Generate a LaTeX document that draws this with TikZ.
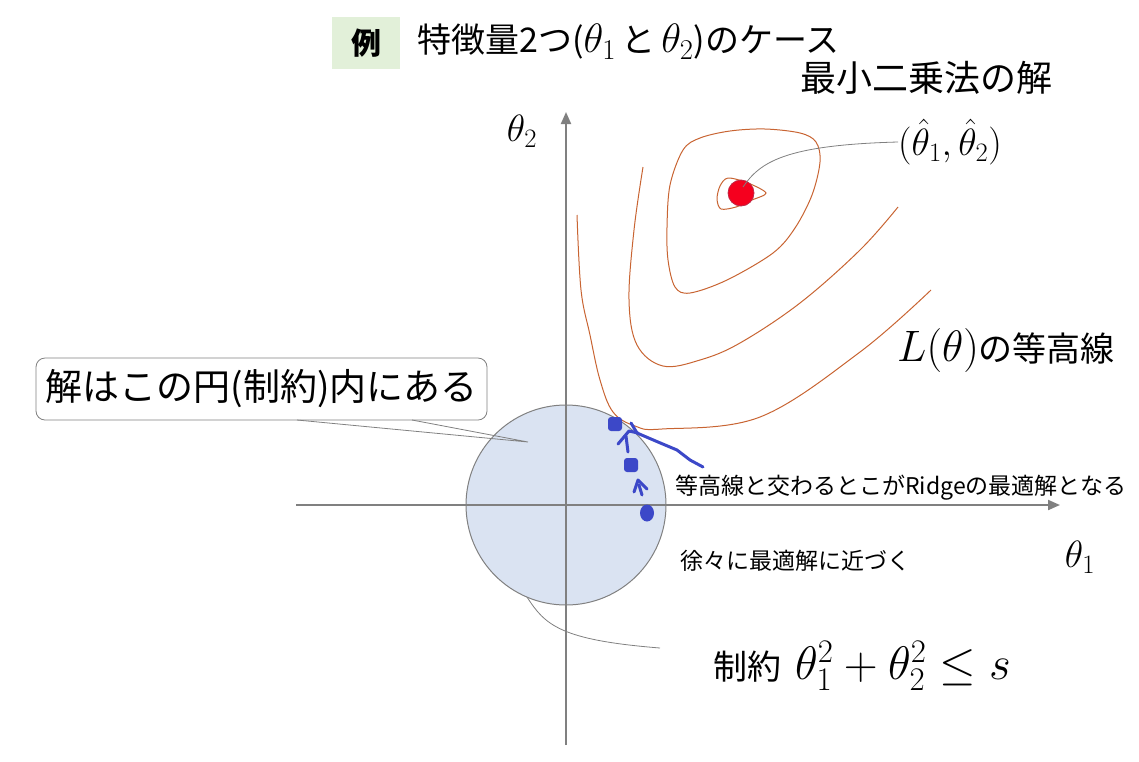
\RequirePackage{fix-cm}
\documentclass[tikz,border=0pt]{standalone}
\usepackage{fontspec}
\newfontfamily\jp{Noto Sans CJK JP}
\usetikzlibrary{arrows.meta}
\definecolor{axisgray}{RGB}{128,128,128}
\definecolor{contour}{RGB}{200,100,50}
\definecolor{circfill}{RGB}{218,227,242}
\definecolor{greenbox}{RGB}{226,240,217}
\definecolor{penblue}{RGB}{60,72,200}
\definecolor{dotred}{RGB}{245,0,30}
\definecolor{dotedge}{RGB}{190,40,70}
\newcommand{\mysizedmath}[2]{{\fontsize{#1}{#1}\selectfont$#2$}}
\begin{document}
\begin{tikzpicture}[x=1pt,y=-1pt,
  axis/.style={draw=axisgray,line width=2pt,-{Triangle[length=12pt,width=10pt]}},
  cont/.style={draw=contour,line width=1pt},
  pen/.style={draw=penblue,line width=3pt,line cap=round,line join=round},
  blob/.style={fill=penblue,rounded corners=3pt},
  lead/.style={draw=axisgray,line width=0.8pt},
  txt/.style={inner sep=0pt,anchor=west,font=\jp}]
\useasboundingbox (0,0) rectangle (1139,761);
% title
\node[fill=greenbox,minimum width=68pt,minimum height=52pt,inner sep=0pt,font=\jp\bfseries\fontsize{30}{34}\selectfont] (ex) at (366,43) {例};
\node[txt,font=\jp\fontsize{34}{38}\selectfont] (title) at (417,42) {特徴量2つ(\mysizedmath{41}{\theta_1}\,と\,\mysizedmath{41}{\theta_2})のケース};
\node[txt,font=\jp\fontsize{36}{40}\selectfont] (lsq) at (800,78) {最小二乗法の解};
% constraint circle
\node[circle,draw=axisgray,fill=circfill,line width=1pt,minimum size=200pt,inner sep=0pt] (c) at (566,505) {};
% contours
\draw[cont] plot[smooth,tension=0.6] coordinates {(577,215) (581,290) (590,335) (600,380) (613,412) (635,426) (662,429) (760,417) (860,352) (931,290)};
\draw[cont] plot[smooth,tension=0.6] coordinates {(643,167) (634,230) (629,300) (637,345) (663,366) (700,360) (740,343) (800,303) (860,250) (898,207)};
\draw[cont] plot[smooth cycle,tension=0.55] coordinates {(683,150) (700,138) (730,131) (765,129) (800,133) (816,142) (820,162) (812,195) (795,228) (773,253) (727,280) (690,293) (675,287) (668,260) (667,227) (670,185)};
\draw[cont] plot[smooth cycle,tension=0.5] coordinates {(766,193) (748,183) (728,178) (720,186) (717,199) (721,209) (736,207) (752,200)};
% axes
\draw[axis] (566,745) -- (566,112);
\draw[axis] (296,505) -- (1060,505);
\node[inner sep=0pt,font=\fontsize{38}{40}\selectfont] (t2) at (522,131) {$\theta_2$};
\node[inner sep=0pt,font=\fontsize{38}{40}\selectfont] (t1) at (1080,557) {$\theta_1$};
% least squares solution
\node[circle,fill=dotred,draw=dotedge,line width=0.8pt,minimum size=26pt,inner sep=0pt] (opt) at (741,193) {};
\node[txt,font=\fontsize{38}{40}\selectfont] (hat) at (898,142) {$(\hat\theta_1,\hat\theta_2)$};
\draw[lead] (opt.center) ++(2,-6) .. controls (760,162) and (785,145) .. (hat.west);
\node[txt,font=\jp\fontsize{34}{38}\selectfont] (lth) at (897,350) {\mysizedmath{44}{L(\theta)}の等高線};
% callout box
\node[draw=axisgray,fill=white,rounded corners=9pt,line width=0.8pt,minimum width=451pt,minimum height=62pt,inner sep=0pt,font=\jp\fontsize{37}{40}\selectfont] (box) at (261.5,389) {解はこの円(制約)内にある};
\coordinate (tip) at (528,442);
\coordinate (wa) at (297,420);
\coordinate (wb) at (412,420);
\draw[lead] (wa) -- (tip) -- (wb);
% constraint label
\node[txt,font=\jp\fontsize{34}{38}\selectfont] (cons) at (713,666) {制約\hspace{14pt}\mysizedmath{47}{\theta_1^2+\theta_2^2\le s}};
\coordinate (cend) at (660,648);
\draw[lead] (527,597) .. controls (545,625) and (560,640) .. (cend);
% hand-drawn marks
\fill[blob] (608,417) rectangle (622,431);
\fill[blob] (624,458) rectangle (638,472);
\fill[penblue] (647,513) ellipse (7pt and 8.5pt);
\draw[pen] (631,423) -- (637,433) -- (658,442) -- (677,450) -- (690,460) -- (703,467);
\draw[pen] (628,452) -- (626,436);
\draw[pen] (618,444) -- (629,431) -- (638,433);
\draw[pen] (642,495) -- (639,485);
\draw[pen] (634,492) -- (638,480) -- (647,489);
% texts
\node[txt,font=\jp\fontsize{23}{26}\selectfont] (ridge) at (675,488) {等高線と交わるとこがRidgeの最適解となる};
\node[txt,font=\jp\fontsize{23}{26}\selectfont] (grad) at (680,561) {徐々に最適解に近づく};
\end{tikzpicture}
\end{document}
